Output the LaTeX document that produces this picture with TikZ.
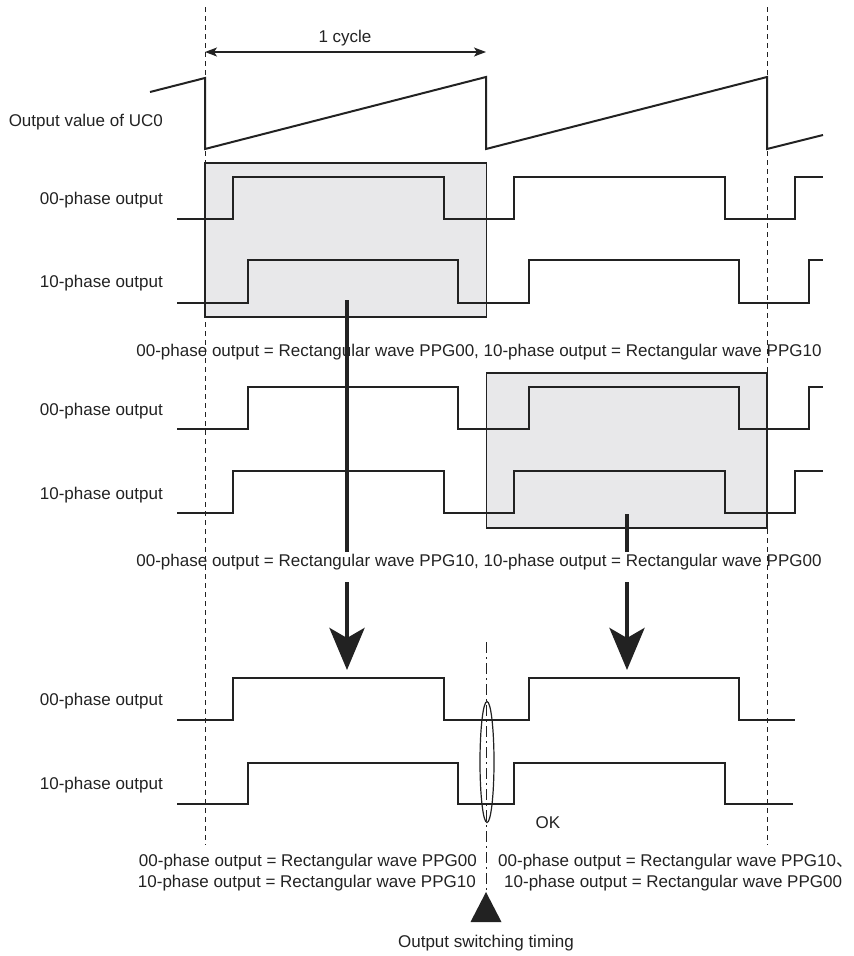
\documentclass[tikz,border=0pt]{standalone}
\usepackage{fontspec}
\setmainfont{Liberation Sans}
\newfontfamily\cjkfont{Noto Sans CJK JP}
\usetikzlibrary{arrows.meta}
\definecolor{boxgray}{RGB}{232,232,234}
\definecolor{ink}{RGB}{34,34,34}
\begin{document}
\begin{tikzpicture}[x=1pt,y=-1pt,
  lbl/.style={font=\fontsize{17}{20}\selectfont, inner sep=0pt, text=ink},
  wave/.style={line width=2pt, draw=ink, line join=miter},
  guide/.style={line width=0.8pt, draw=ink, dash pattern=on 5pt off 4pt},
  selbox/.style={draw=ink, line width=1.8pt, fill=boxgray},
  bigline/.style={line width=4.5pt, draw=ink},
  bigarrow/.style={line width=4.5pt, draw=ink, -{Stealth[length=42pt,width=35pt,inset=10pt]}},
  cyclearrow/.style={line width=1.3pt, draw=ink, {Stealth[length=12pt,width=9pt,inset=3pt]}-{Stealth[length=12pt,width=9pt,inset=3pt]}},
]
\useasboundingbox (0,0) rectangle (854,956);

% highlighted boxes
\draw[selbox] (205,163) rectangle (486.5,317);
\draw[selbox] (486.5,373) rectangle (767,528);

% guides
\coordinate (gL1) at (205,7);  \coordinate (gL2) at (205,845);
\coordinate (gR1) at (767,7);  \coordinate (gR2) at (767,845);
\draw[guide] (gL1) -- (gL2);
\draw[guide] (gR1) -- (gR2);

% cycle arrow
\coordinate (c1) at (205,52); \coordinate (c2) at (486,52);
\draw[cyclearrow] (c1) -- (c2);
\node[lbl] (cyc) at (345,38) {1 cycle};

% sawtooth
\node[lbl, anchor=east] (uc) at (163,122) {Output value of UC0};
\draw[wave] (150,92) -- (205,78) -- (205,149) -- (486,77) -- (486,149) -- (767,77) -- (767,149) -- (823,135);

% group 1
\node[lbl, anchor=east] (g1a) at (163,200) {00-phase output};
\node[lbl, anchor=east] (g1b) at (163,283) {10-phase output};
\draw[wave] (177,219) -| (233,177) -| (444,219) -| (514,177) -| (725,219) -| (795,177) -- (823,177);
\draw[wave] (177,303) -| (248,260) -| (458,303) -| (529,260) -| (739,303) -| (809,260) -- (823,260);

\node[lbl] (r1) at (479,352) {00-phase output = Rectangular wave PPG00, 10-phase output = Rectangular wave PPG10};

% group 2
\node[lbl, anchor=east] (g2a) at (163,411) {00-phase output};
\node[lbl, anchor=east] (g2b) at (163,495) {10-phase output};
\draw[wave] (177,429) -| (248,387) -| (458,429) -| (529,387) -| (739,429) -| (809,387) -- (823,387);
\draw[wave] (177,513) -| (233,471) -| (444,513) -| (514,471) -| (725,513) -| (795,471) -- (823,471);

\node[lbl] (r2) at (479,562) {00-phase output = Rectangular wave PPG10, 10-phase output = Rectangular wave PPG00};

% thick arrows
\coordinate (a1) at (347,300); \coordinate (a2) at (347,552);
\coordinate (a3) at (347,582); \coordinate (a4) at (347,670);
\coordinate (b1) at (627,514); \coordinate (b2) at (627,552);
\coordinate (b3) at (627,582); \coordinate (b4) at (627,670);
\draw[bigline] (a1) -- (a2);
\draw[bigarrow] (a3) -- (a4);
\draw[bigline] (b1) -- (b2);
\draw[bigarrow] (b3) -- (b4);

% group 3
\node[lbl, anchor=east] (g3a) at (163,701) {00-phase output};
\node[lbl, anchor=east] (g3b) at (163,785) {10-phase output};
\draw[wave] (177,720) -| (233,678) -| (444,720) -| (529,678) -| (739,720) -- (795,720);
\draw[wave] (177,804) -| (248,763) -| (458,804) -| (514,763) -| (725,804) -- (793,804);

% switching marker
\coordinate (d1) at (486,642); \coordinate (d2) at (486,891);
\draw[line width=1pt, draw=ink, dash pattern=on 11pt off 4pt on 2pt off 4pt] (d1) -- (d2);
\draw[line width=1.2pt, draw=ink] (487,762) ellipse [x radius=7pt, y radius=60.5pt];
\node[lbl] (ok) at (548,823) {OK};

\node[lbl, anchor=east] (l1) at (477,862) {00-phase output = Rectangular wave PPG00};
\node[lbl, anchor=east] (l2) at (476,883) {10-phase output = Rectangular wave PPG10};
\node[lbl, anchor=west] (m1) at (498,862) {00-phase output = Rectangular wave PPG10{\cjkfont 、}};
\node[lbl, anchor=west] (m2) at (504,883) {10-phase output = Rectangular wave PPG00};

\fill[ink] (486,892) -- (501.5,922) -- (470.5,922) -- cycle;
\node[lbl] (sw) at (486,943) {Output switching timing};
\end{tikzpicture}
\end{document}
